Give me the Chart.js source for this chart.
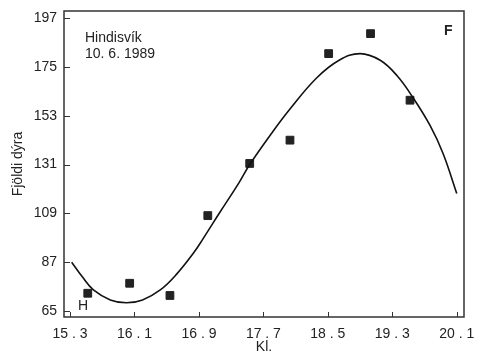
<!DOCTYPE html>
<html>
<head>
<meta charset="utf-8">
<script src="https://cdn.jsdelivr.net/npm/chart.js@4/dist/chart.umd.min.js"></script>
<style>
  html, body { margin: 0; padding: 0; background: #fff; }
  #wrap { width: 477px; height: 356px; }
</style>
</head>
<body>
<div id="wrap"><canvas id="fishChart"></canvas></div>
<script>
// counts (Fjöldi dýra) at clock time (Kl.)
const obsTime = [15.52, 16.04, 16.54, 17.01, 17.53, 18.03, 18.51, 19.03, 19.52];
const obsCount = [73, 77.5, 72, 108, 131.5, 142, 181, 190, 160];

// fitted curve
const fitTime = [15.32, 15.45, 15.59, 15.8, 16.0, 16.2, 16.42, 16.62, 16.83, 16.95, 17.16, 17.4, 17.53, 17.8, 18.03, 18.36, 18.64, 18.9, 19.15, 19.36, 19.56, 19.77, 19.93, 20.1];
const fitCount = [87, 80.5, 74.5, 70, 68.7, 70, 74.5, 81.5, 91, 97.5, 109.5, 123, 131, 145, 156, 170, 178, 181, 178, 171, 161, 148.5, 136, 118];

const xTicks = [15.3, 16.1, 16.9, 17.7, 18.5, 19.3, 20.1];
const yTicks = [65, 87, 109, 131, 153, 175, 197];

const ink = '#222';
const font = 'Liberation Sans, Arial, sans-serif';

// frame + inward tick marks + the little notes on the plot
const framePlugin = {
  id: 'frame',
  afterDraw(chart) {
    const { ctx, chartArea: a, scales } = chart;
    ctx.save();
    ctx.strokeStyle = '#333';
    ctx.lineWidth = 1.5;
    ctx.strokeRect(a.left, a.top, a.right - a.left, a.bottom - a.top);

    ctx.lineWidth = 1;
    ctx.beginPath();
    xTicks.forEach(v => {
      const px = Math.round(scales.x.getPixelForValue(v)) + 0.5;
      ctx.moveTo(px, a.bottom);
      ctx.lineTo(px, a.bottom - 5);
    });
    yTicks.forEach(v => {
      const py = Math.round(scales.y.getPixelForValue(v)) + 0.5;
      ctx.moveTo(a.left, py);
      ctx.lineTo(a.left + 6, py);
    });
    ctx.stroke();

    ctx.fillStyle = ink;
    ctx.textBaseline = 'middle';
    ctx.font = '14px ' + font;
    ctx.fillText('Hindisvík', 85, 38);
    ctx.fillText('10. 6. 1989', 85, 54);
    ctx.fillText('H', 78, 306);
    ctx.font = 'bold 14px ' + font;
    ctx.fillText('F', 444, 31);
    ctx.restore();
  }
};

new Chart(document.getElementById('fishChart'), {
  type: 'scatter',
  data: {
    datasets: [
      {
        label: 'fit',
        data: fitTime.map((t, i) => ({ x: t, y: fitCount[i] })),
        showLine: true,
        borderColor: '#111',
        borderWidth: 1.6,
        pointRadius: 0,
        tension: 0.4,
        fill: false
      },
      {
        label: 'obs',
        data: obsTime.map((t, i) => ({ x: t, y: obsCount[i] })),
        pointStyle: 'rect',
        pointRadius: 5.5,
        backgroundColor: '#222',
        borderColor: '#222',
        borderWidth: 1
      }
    ]
  },
  options: {
    responsive: true,
    maintainAspectRatio: false,
    animation: false,
    layout: { padding: { top: 11, right: 13, left: 0, bottom: 0 } },
    plugins: {
      legend: { display: false },
      tooltip: { enabled: false }
    },
    scales: {
      x: {
        type: 'linear',
        min: 15.225,
        max: 20.19,
        afterBuildTicks: s => { s.ticks = xTicks.map(v => ({ value: v })); },
        afterFit: s => { s.height = 39; s.paddingLeft = 0; s.paddingRight = 0; },
        grid: { display: false, drawTicks: false },
        border: { display: false },
        ticks: {
          padding: 9,
          maxRotation: 0,
          color: ink,
          font: { family: font, size: 14 },
          callback: v => v.toFixed(1).replace('.', ' . ')
        },
        title: {
          display: true,
          text: 'Kl.',
          color: ink,
          font: { family: font, size: 14 },
          padding: 0
        }
      },
      y: {
        min: 62.3,
        max: 200.2,
        afterBuildTicks: s => { s.ticks = yTicks.map(v => ({ value: v })); },
        afterFit: s => { s.width = 64; s.paddingTop = 0; s.paddingBottom = 0; },
        grid: { display: false, drawTicks: false },
        border: { display: false },
        ticks: {
          padding: 7,
          color: ink,
          font: { family: font, size: 14 }
        },
        title: {
          display: true,
          text: 'Fjöldi dýra',
          color: ink,
          font: { family: font, size: 14 },
          padding: { top: 10, bottom: 0 }
        }
      }
    }
  },
  plugins: [framePlugin]
});
</script>
</body>
</html>
